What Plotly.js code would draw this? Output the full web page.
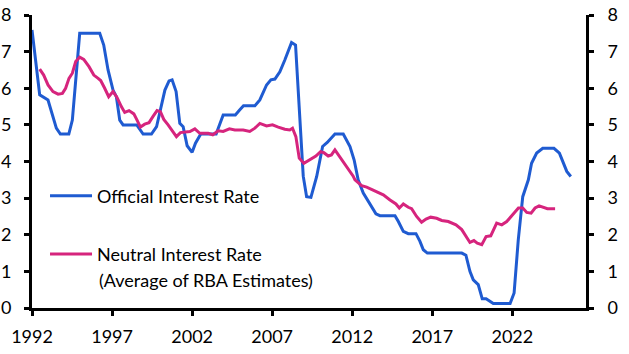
<!DOCTYPE html>
<html>
<head>
<meta charset="utf-8">
<script src="https://cdn.plot.ly/plotly-3.0.1.min.js"></script>
<style>html,body{margin:0;padding:0;background:#fff;}#chart{width:629px;height:354px;}</style>
</head>
<body>
<div id="chart"></div>
<script>
// Official interest rate (RBA cash rate)
const officialYears = [1992.0,1992.48,1993.0,1993.2,1993.52,1993.77,1994.3,1994.52,1994.77,1994.98,1996.23,1996.48,1996.75,1997.06,1997.27,1997.48,1997.69,1998.54,1998.94,1999.46,1999.78,2000.09,2000.3,2000.56,2000.75,2001.0,2001.23,2001.44,2001.69,2002.0,2002.21,2002.54,2003.5,2003.94,2004.7,2004.98,2005.21,2005.92,2006.23,2006.65,2006.92,2007.17,2007.48,2007.79,2008.21,2008.46,2008.94,2009.15,2009.42,2009.78,2010.15,2010.44,2010.92,2011.44,2011.86,2012.12,2012.37,2012.69,2013.0,2013.21,2013.48,2013.73,2014.67,2014.88,2015.19,2015.5,2015.98,2016.23,2016.44,2016.69,2018.84,2019.1,2019.35,2019.56,2019.87,2020.12,2020.36,2020.81,2021.86,2022.11,2022.37,2022.65,2023.0,2023.2,2023.52,2023.9,2024.6,2024.94,2025.2,2025.4,2025.65];
const officialRate = [7.59,5.82,5.68,5.36,4.91,4.75,4.75,5.13,6.41,7.5,7.5,7.18,6.5,5.95,5.77,5.13,5.0,5.0,4.75,4.75,4.95,5.5,5.95,6.2,6.23,5.91,5.04,4.95,4.43,4.25,4.5,4.75,4.75,5.27,5.27,5.41,5.52,5.52,5.68,6.09,6.23,6.25,6.45,6.77,7.25,7.18,3.6,3.04,3.02,3.59,4.41,4.52,4.75,4.75,4.41,4.04,3.5,3.14,2.91,2.77,2.57,2.52,2.52,2.36,2.09,2.03,2.03,1.82,1.59,1.5,1.5,1.44,1.0,0.77,0.64,0.25,0.25,0.12,0.12,0.41,1.86,3.04,3.5,3.95,4.23,4.36,4.36,4.23,3.95,3.73,3.59];

// Neutral interest rate (average of RBA estimates)
const neutralYears = [1992.48,1992.73,1993.0,1993.31,1993.63,1993.9,1994.1,1994.31,1994.52,1994.73,1994.98,1995.23,1995.56,1995.86,1996.13,1996.29,1996.54,1996.79,1997.06,1997.31,1997.58,1997.79,1998.06,1998.36,1998.56,1998.77,1999.04,1999.31,1999.56,1999.81,2000.02,2000.23,2000.5,2000.77,2001.02,2001.27,2001.54,2001.86,2002.17,2002.48,2003.0,2003.29,2003.63,2003.94,2004.33,2004.67,2005.19,2005.6,2005.92,2006.23,2006.65,2007.02,2007.38,2007.79,2008.1,2008.27,2008.48,2008.69,2008.98,2009.36,2009.73,2010.02,2010.23,2010.5,2010.7,2010.92,2011.23,2011.45,2011.65,2012.06,2012.17,2012.59,2012.9,2013.42,2013.94,2014.36,2014.73,2014.94,2015.19,2015.5,2015.71,2016.02,2016.33,2016.61,2016.9,2017.27,2017.59,2018.0,2018.48,2018.84,2019.04,2019.35,2019.6,2019.81,2020.09,2020.36,2020.65,2021.02,2021.34,2021.65,2022.03,2022.38,2022.65,2022.9,2023.17,2023.42,2023.67,2023.94,2024.19,2024.67];
const neutralRate = [6.52,6.36,6.09,5.91,5.84,5.86,6.0,6.27,6.41,6.73,6.85,6.79,6.59,6.36,6.27,6.21,6.0,5.77,5.91,5.75,5.5,5.34,5.39,5.3,5.13,4.94,5.02,5.06,5.23,5.39,5.36,5.15,5.0,4.82,4.68,4.79,4.8,4.82,4.89,4.77,4.77,4.73,4.84,4.82,4.89,4.86,4.86,4.82,4.91,5.04,4.97,5.0,4.94,4.88,4.86,4.91,4.68,4.09,3.95,4.06,4.15,4.27,4.24,4.15,4.18,4.32,4.13,4.0,3.88,3.6,3.5,3.34,3.3,3.2,3.09,2.95,2.84,2.73,2.84,2.75,2.71,2.5,2.34,2.43,2.48,2.45,2.39,2.36,2.27,2.14,2.0,1.79,1.84,1.77,1.73,1.95,1.97,2.32,2.27,2.36,2.55,2.73,2.73,2.61,2.59,2.73,2.79,2.75,2.71,2.71];

const xTickVals = [1992,1997,2002,2007,2012,2017,2022];
const xTickText = ['1992','1997','2002','2007','2012','2017','2022'];
const yTickVals = [0,1,2,3,4,5,6,7,8];

const FONT = 'Lato, "Noto Sans", sans-serif';
const FS = 18;

const traces = [
  {x: officialYears, y: officialRate, type: 'scatter', mode: 'lines',
   name: 'Official Interest Rate', line: {color: '#1F5BD1', width: 3}, legend: 'legend', yaxis: 'y'},
  {x: neutralYears, y: neutralRate, type: 'scatter', mode: 'lines',
   name: 'Neutral Interest Rate', line: {color: '#D6247D', width: 3}, legend: 'legend2', yaxis: 'y2'}
];

const axisCommon = {
  showgrid: false, zeroline: false, showline: true, linecolor: '#000', linewidth: 3,
  ticks: 'outside', ticklen: 5, tickwidth: 3, tickcolor: '#000',
  tickfont: {family: FONT, size: FS, color: '#000'}
};

const layout = {
  width: 629, height: 354,
  margin: {l: 32, r: 43, t: 15, b: 46},
  paper_bgcolor: '#fff', plot_bgcolor: '#fff',
  font: {family: FONT, size: FS, color: '#000'},
  xaxis: Object.assign({}, axisCommon, {range: [1992, 2026.6], tickvals: xTickVals, ticktext: xTickText, ticklabelstandoff: 5}),
  yaxis: Object.assign({}, axisCommon, {range: [0, 8], tickvals: yTickVals, ticklabelstandoff: 9}),
  yaxis2: Object.assign({}, axisCommon, {range: [0, 8], tickvals: yTickVals, overlaying: 'y', side: 'right', ticklabelstandoff: 10}),
  showlegend: true,
  legend: {x: 0.0235, y: 0.382, xanchor: 'left', yanchor: 'middle', bgcolor: 'rgba(0,0,0,0)',
           itemwidth: 42, font: {family: FONT, size: FS, color: '#000'}},
  legend2: {x: 0.0235, y: 0.183, xanchor: 'left', yanchor: 'middle', bgcolor: 'rgba(0,0,0,0)',
           itemwidth: 42, font: {family: FONT, size: FS, color: '#000'}},
  annotations: [
    {text: '(Average of RBA Estimates)', xref: 'paper', yref: 'paper', x: 0.1173, y: 0.0956,
     xanchor: 'left', yanchor: 'middle', showarrow: false, font: {family: FONT, size: FS, color: '#000'}}
  ]
};

Plotly.newPlot('chart', traces, layout, {displayModeBar: false, staticPlot: true});
</script>
</body>
</html>
